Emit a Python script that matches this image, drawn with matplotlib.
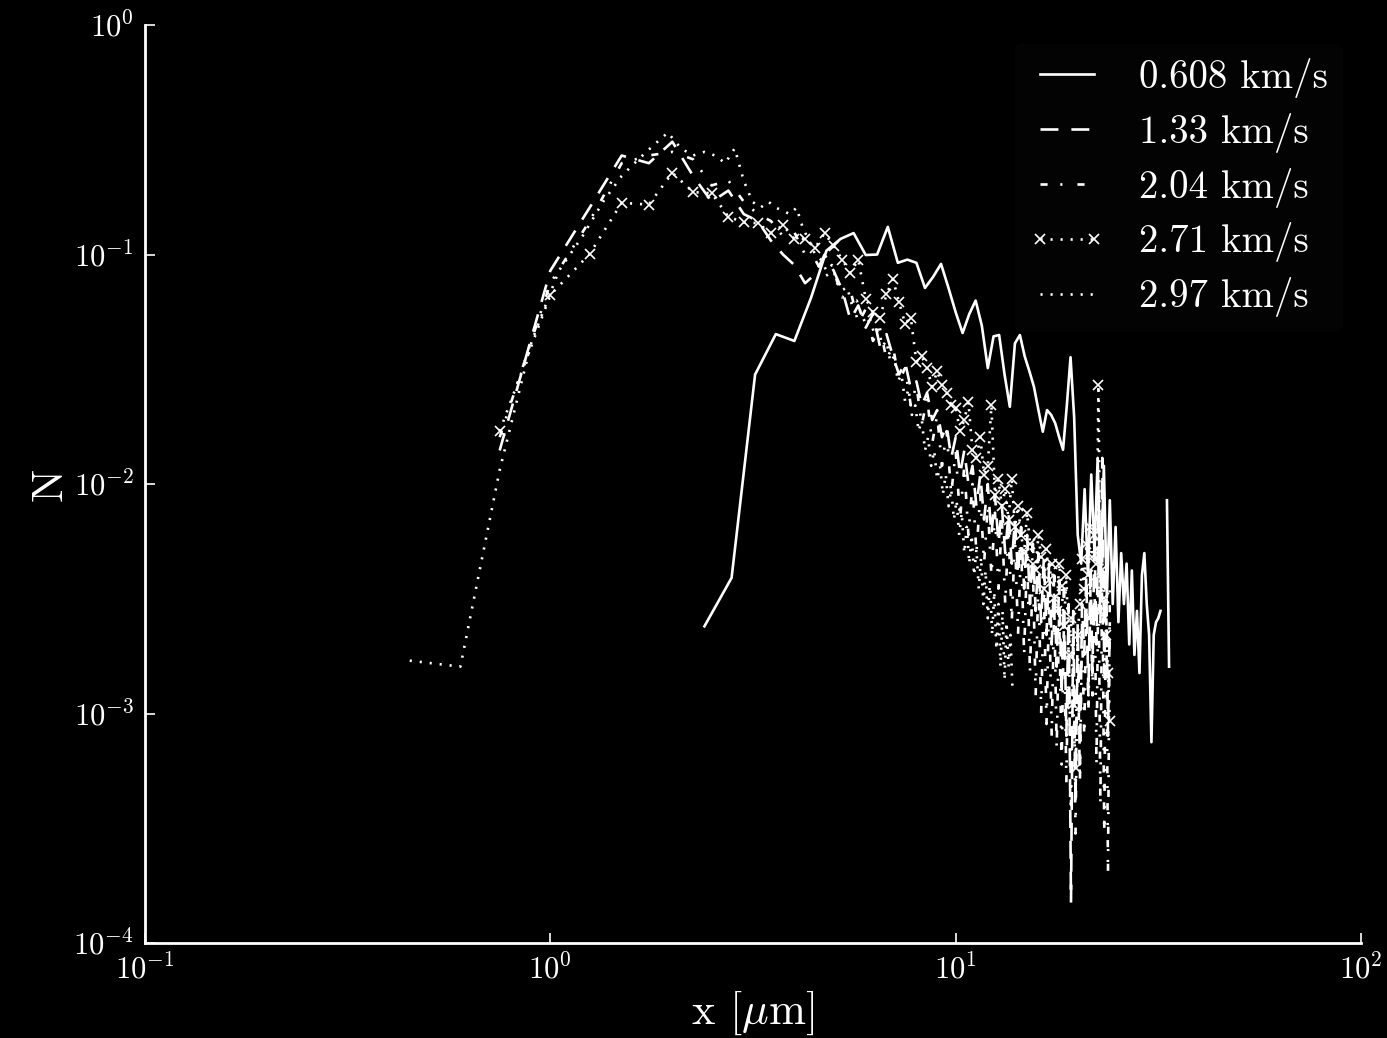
import matplotlib
matplotlib.use('Agg')
import matplotlib.pyplot as plt
import numpy as np

plt.rcParams['font.family'] = 'serif'
plt.rcParams['font.serif'] = ['cmr10']
plt.rcParams['mathtext.fontset'] = 'cm'
plt.rcParams['axes.unicode_minus'] = False
plt.rcParams['axes.formatter.use_mathtext'] = True

labels = ['0.608 km/s', '1.33 km/s', '2.04 km/s', '2.71 km/s', '2.97 km/s']

# bin centres [um]
x_a = np.round(np.arange(2.4, 33.7, 0.4), 2)    # 0.608 km/s
x_b = np.round(np.arange(0.75, 24.01, 0.25), 2)  # 1.33, 2.04, 2.71 km/s
x_c = np.round(np.arange(0.45, 13.81, 0.15), 2)  # 2.97 km/s

n_608 = [0.0024, 0.0039, 0.030, 0.045, 0.042, 0.065, 0.104, 0.117, 0.124, 0.0995,
         0.100, 0.132, 0.092, 0.095, 0.092, 0.0715, 0.080, 0.091, 0.0715, 0.056,
         0.0455, 0.055, 0.063, 0.049, 0.032, 0.044, 0.0446, 0.030, 0.0217, 0.041,
         0.0446, 0.036, 0.031, 0.0265, 0.021, 0.0169, 0.021, 0.020, 0.0184, 0.016,
         0.0141, 0.022, 0.0357, 0.0195, 0.0060, 0.0045, 0.0095, 0.0040, 0.0110, 0.0050,
         0.0130, 0.0038, 0.0120, 0.0032, 0.0085, 0.0030, 0.0065, 0.0025, 0.0050, 0.0030,
         0.0045, 0.0020, 0.0042, 0.0018, 0.0028, 0.0015, 0.0040, 0.0050, 0.0030, 0.0022,
         0.00075, 0.0022, 0.0025, 0.0026, 0.0028, np.nan, np.nan, 0.0085, 0.0016]

n_133 = [0.014, 0.085, 0.16, 0.27, 0.25, 0.31, 0.22, 0.17, 0.19, 0.15,
         0.14, 0.115, 0.10, 0.09, 0.075, 0.082, 0.10, 0.085, 0.07, 0.052,
         0.060, 0.048, 0.055, 0.040, 0.045, 0.036, 0.030, 0.034, 0.026, 0.028,
         0.022, 0.025, 0.019, 0.021, 0.016, 0.018, 0.013, 0.016, 0.011, 0.014,
         0.010, 0.012, 0.008, 0.011, 0.007, 0.010, 0.006, 0.009, 0.0055, 0.008,
         0.005, 0.0075, 0.0045, 0.007, 0.004, 0.0065, 0.0035, 0.006, 0.003, 0.0055,
         0.0028, 0.005, 0.0025, 0.0048, 0.0022, 0.0045, 0.002, 0.004, 0.0016, 0.0038,
         0.0012, 0.0035, 0.0008, 0.003, 0.00015, 0.0028, 0.0004, 0.0025, 0.0006, 0.003,
         0.0018, 0.004, 0.0012, 0.0045, 0.0015, 0.006, 0.002, 0.0085, 0.0025, 0.013,
         0.0015, 0.0045, 0.0008, 0.0025]

n_204 = [0.016, 0.075, 0.14, 0.25, 0.27, 0.28, 0.26, 0.20, 0.21, 0.17,
         0.15, 0.14, 0.12, 0.125, 0.10, 0.095, 0.08, 0.085, 0.065, 0.07,
         0.05, 0.058, 0.042, 0.048, 0.035, 0.04, 0.028, 0.032, 0.022, 0.027,
         0.018, 0.024, 0.015, 0.02, 0.012, 0.017, 0.009, 0.014, 0.007, 0.012,
         0.006, 0.010, 0.005, 0.009, 0.0045, 0.008, 0.004, 0.0075, 0.0035, 0.007,
         0.003, 0.0065, 0.0025, 0.006, 0.0022, 0.0055, 0.0018, 0.005, 0.0015, 0.0045,
         0.0012, 0.004, 0.001, 0.0035, 0.0009, 0.0032, 0.0008, 0.003, 0.0007, 0.0028,
         0.0006, 0.0026, 0.0005, 0.0024, 0.0004, 0.0022, 0.0003, 0.002, 0.0005, 0.0025,
         0.0008, 0.003, 0.001, 0.0035, 0.0012, 0.004, 0.0006, 0.0045, 0.0004, 0.005,
         0.0003, 0.004, 0.0002, 0.0035]

n_271 = [0.017, 0.0666, 0.1005, 0.168, 0.165, 0.227, 0.187, 0.185, 0.146, 0.138,
         0.137, 0.124, 0.134, 0.117, 0.117, 0.107, 0.124, 0.109, 0.095, 0.083,
         0.095, 0.064, 0.056, 0.053, 0.067, 0.078, 0.062, 0.05, 0.053, 0.034,
         0.036, 0.032, 0.0265, 0.031, 0.027, 0.025, 0.022, 0.0215, 0.017, 0.019,
         0.0228, 0.014, 0.013, 0.016, 0.011, 0.012, 0.022, 0.009, 0.0105, 0.008,
         0.0095, 0.007, 0.0105, 0.0065, 0.008, 0.006, 0.005, 0.0075, 0.0055, 0.0045,
         0.0042, 0.006, 0.0048, 0.0035, 0.0052, 0.0038, 0.0045, 0.0032, 0.0028, 0.0045,
         0.0036, 0.0024, 0.004, 0.0018, 0.0026, 0.0011, 0.00058, 0.0022, 0.003, 0.0047,
         0.0035, 0.0055, 0.004, 0.0065, 0.0048, 0.006, 0.0045, 0.027, 0.0028, 0.0042,
         0.0032, 0.0022, 0.0015, 0.00093]

n_297 = [0.0017, 0.0016, 0.0115, 0.042, 0.085, 0.12, 0.17, 0.22, 0.26, 0.30,
         0.34, 0.29, 0.27, 0.28, 0.27, 0.25, 0.29, 0.21, 0.17, 0.16,
         0.17, 0.16, 0.155, 0.15, 0.16, 0.13, 0.115, 0.10, 0.095, 0.085,
         0.09, 0.075, 0.07, 0.072, 0.06, 0.063, 0.055, 0.05, 0.052, 0.045,
         0.047, 0.04, 0.042, 0.034, 0.036, 0.028, 0.03, 0.023, 0.026, 0.02,
         0.022, 0.017, 0.019, 0.014, 0.016, 0.012, 0.014, 0.0105, 0.012, 0.009,
         0.011, 0.008, 0.0095, 0.007, 0.0085, 0.006, 0.0075, 0.005, 0.0065, 0.0045,
         0.006, 0.004, 0.0052, 0.0035, 0.0048, 0.003, 0.0042, 0.0026, 0.0038, 0.0022,
         0.0034, 0.0019, 0.003, 0.0016, 0.0028, 0.0014, 0.0025, 0.0016, 0.0022, 0.0013]

fig = plt.figure(figsize=(13.87, 10.38), dpi=100, facecolor='black')
ax = fig.add_axes([0.1045, 0.0915, 0.8768, 0.8844], facecolor='black')

lw = 1.9
ax.plot(x_a, n_608, '-', color='white', lw=lw, label=labels[0])
ax.plot(x_b, n_133, color='white', lw=lw, linestyle=(0, (6.8, 4.9)), label=labels[1])
ax.plot(x_b, n_204, color='white', lw=lw, linestyle=(0, (2.7, 4.8, 0.8, 5.7)), label=labels[2])
ax.plot(x_b, n_271, color='white', lw=lw, linestyle=(0, (0.8, 3.0)), marker='x',
        markersize=7, markeredgewidth=1.2, label=labels[3])
ax.plot(x_c, n_297, color='white', lw=lw, linestyle=(0, (0.8, 3.0)), label=labels[4])

ax.set_xscale('log')
ax.set_yscale('log')
ax.set_xlim(0.1, 100)
ax.set_ylim(1e-4, 1)

for s in ['top', 'right']:
    ax.spines[s].set_visible(False)
for s in ['left', 'bottom']:
    ax.spines[s].set_color('white')
    ax.spines[s].set_linewidth(2)

ax.tick_params(which='major', direction='in', length=7, width=1.2, colors='white',
               labelsize=22, pad=8)
ax.xaxis.set_minor_locator(matplotlib.ticker.NullLocator())
ax.yaxis.set_minor_locator(matplotlib.ticker.NullLocator())

ax.set_xlabel(r'x [$\mu$m]', fontsize=32, color='white', labelpad=2)
ax.set_ylabel('N', fontsize=32, color='white', labelpad=2)

leg = ax.legend(loc='upper right', fontsize=28, frameon=True, numpoints=2,
                handlelength=2.0, handletextpad=0.85, labelspacing=0.38,
                borderaxespad=0.5, borderpad=0.35)
leg.get_frame().set_facecolor('#050505')
leg.get_frame().set_edgecolor('#050505')
for t in leg.get_texts():
    t.set_color('white')

fig.savefig('out.png', dpi=100, facecolor='black')
